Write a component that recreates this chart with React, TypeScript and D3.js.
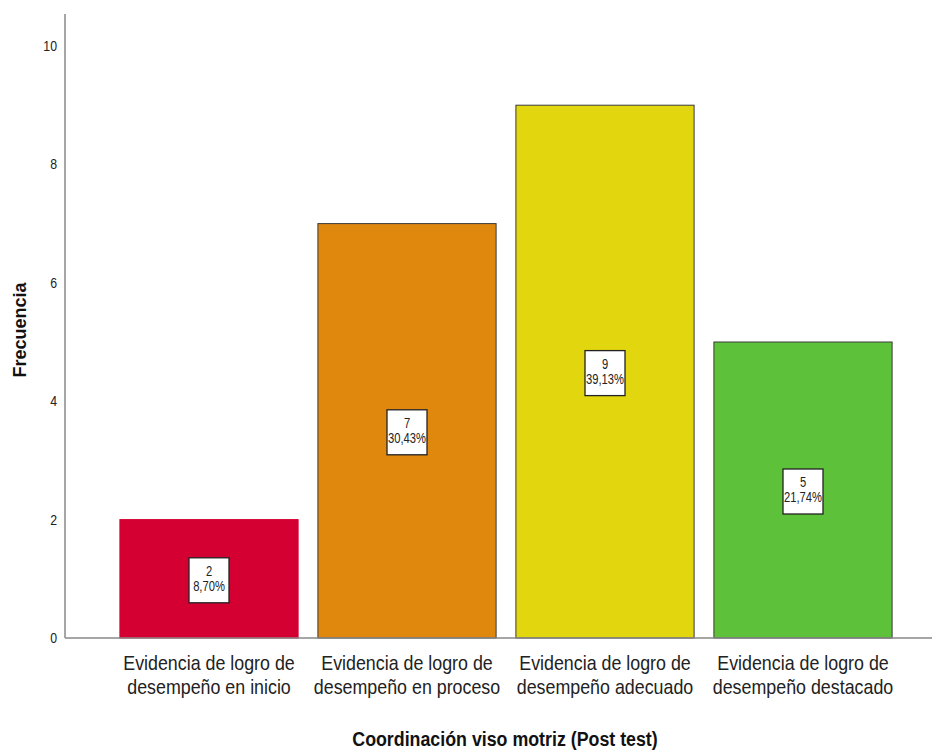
import React from "react";
import * as d3 from "d3";

const categories = [
  ["Evidencia de logro de", "desempeño en inicio"],
  ["Evidencia de logro de", "desempeño en proceso"],
  ["Evidencia de logro de", "desempeño adecuado"],
  ["Evidencia de logro de", "desempeño destacado"],
];
const counts = [2, 7, 9, 5];
const percents = ["8,70%", "30,43%", "39,13%", "21,74%"];
const colors = ["#d50032", "#e0880e", "#e2d70e", "#5ec13a"];
const yTicks = [0, 2, 4, 6, 8, 10];

const W = 933;
const H = 752;
const axisX = 65;
const baseY = 638;
const sans = "'Liberation Sans', Arial, sans-serif";

function NText(props: {
  x: number;
  y: number;
  size: number;
  sx?: number;
  anchor?: string;
  bold?: boolean;
  fill?: string;
  children: React.ReactNode;
}) {
  const { x, y, size, sx = 0.82, anchor = "middle", bold, fill = "#222", children } = props;
  return (
    <text
      transform={`translate(${x},${y}) scale(${sx},1)`}
      textAnchor={anchor}
      fontFamily={sans}
      fontSize={size}
      fontWeight={bold ? "bold" : "normal"}
      fill={fill}
    >
      {children}
    </text>
  );
}

export default function App() {
  const y = d3.scaleLinear().domain([0, 10]).range([baseY, 46]);
  const x = d3
    .scaleBand<number>()
    .domain(d3.range(categories.length))
    .range([110, 902])
    .paddingInner(0.1)
    .paddingOuter(0.05);
  return (
    <svg
      width={W}
      height={H}
      style={{ position: "absolute", left: 0, top: 0, background: "#fff" }}
    >
      {counts.map((c, i) => {
        const x0 = x(i)!;
        const bw = x.bandwidth();
        const top = y(c);
        const cx = x0 + bw / 2;
        const cy = y(c / 2);
        return (
          <g key={i}>
            <rect
              x={x0}
              y={top}
              width={bw}
              height={baseY - top}
              fill={colors[i]}
              stroke={i === 0 ? colors[i] : "#3a3a3a"}
              strokeWidth={1}
            />
            <rect x={cx - 20} y={cy - 21} width={40} height={45} fill="#fff" stroke="#222" strokeWidth={1.3} />
            <NText x={cx} y={cy - 3} size={14} sx={0.8}>
              {c}
            </NText>
            <NText x={cx} y={cy + 12} size={14} sx={0.8}>
              {percents[i]}
            </NText>
            {categories[i].map((line, j) => (
              <NText key={j} x={cx} y={670 + j * 24} size={21} sx={0.85}>
                {line}
              </NText>
            ))}
          </g>
        );
      })}
      <line x1={axisX} x2={axisX} y1={14} y2={baseY} stroke="#888" strokeWidth={1.5} />
      <line x1={axisX} x2={932} y1={baseY} y2={baseY} stroke="#888" strokeWidth={1.5} />
      {yTicks.map((t) => (
        <NText key={t} x={57} y={y(t) + 5} size={15} sx={0.82} anchor="end">
          {t}
        </NText>
      ))}
      <text
        transform={`translate(26,330) rotate(-90)`}
        textAnchor="middle"
        fontFamily={sans}
        fontWeight="bold"
        fontSize={18}
        fill="#111"
      >
        Frecuencia
      </text>
      <NText x={505} y={746} size={20} sx={0.89} bold fill="#111">
        Coordinación viso motriz (Post test)
      </NText>
    </svg>
  );
}
